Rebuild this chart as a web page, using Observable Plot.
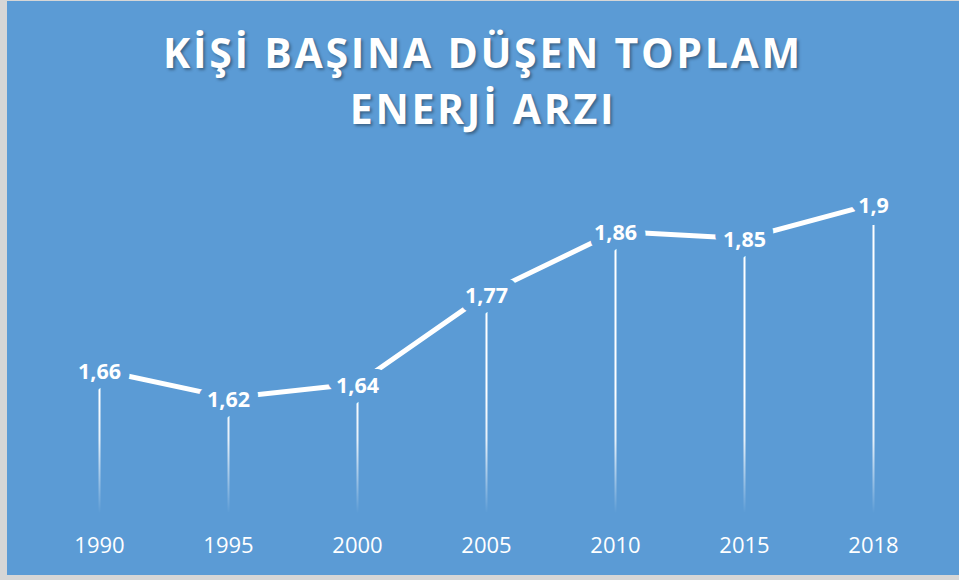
<!DOCTYPE html>
<html>
<head>
<meta charset="utf-8">
<script src="https://cdn.jsdelivr.net/npm/d3@7"></script>
<script src="https://cdn.jsdelivr.net/npm/@observablehq/plot@0.6"></script>
<style>
  html, body { margin: 0; padding: 0; background: #d6d6d6; }
  #box {
    position: absolute; left: 7px; top: 1px; width: 952px; height: 574px;
    background: #5B9BD5; overflow: hidden;
  }
  #title {
    box-sizing: border-box; height: 150px; padding-top: 23px;
    text-align: center; color: #ffffff;
    font-family: "Open Sans", sans-serif; font-weight: 700;
    font-size: 41px; line-height: 56px; letter-spacing: 2.7px;
    text-shadow: 2px 2px 3px rgba(0,0,0,0.35);
  }
</style>
</head>
<body>
<div id="box">
  <div id="title">KİŞİ BAŞINA DÜŞEN TOPLAM<br>ENERJİ ARZI</div>
  <div id="chart"></div>
</div>
<script>
const years = ["1990", "1995", "2000", "2005", "2010", "2015", "2018"];
const values = [1.66, 1.62, 1.64, 1.77, 1.86, 1.85, 1.9];
const yMin = 1.45;

const data = years.map((y, i) => ({year: y, value: values[i]}));
const fmt = v => String(v).replace(".", ",");
const BLUE = "#5B9BD5";

const W = 952, H = 424;
const chart = Plot.plot({
  width: W,
  height: H,
  marginLeft: 0,
  marginRight: 0,
  marginTop: 0,
  marginBottom: 60.2,
  style: {background: "transparent", fontFamily: "Open Sans, sans-serif", color: "white"},
  x: {type: "point", domain: years, range: [91.3, 867.5], padding: 0},
  y: {domain: [yMin, 1.9], range: [363.8, 52.4], axis: null},
  marks: [
    Plot.ruleX(data, {x: "year", y1: () => yMin, y2: "value", stroke: "url(#dropFade)", strokeWidth: 2}),
    Plot.line(data, {x: "year", y: "value", stroke: "white", strokeWidth: 5}),
    Plot.text(data, {
      x: "year", y: "value", text: d => fmt(d.value),
      fill: "white", stroke: BLUE, strokeWidth: 18, strokeLinejoin: "round",
      fontSize: 21.5, fontWeight: "bold", dy: 2
    }),
    Plot.axisX({tickSize: 0, tickPadding: 21.6, fontSize: 22, fill: "white", label: null})
  ]
});

// gradient for the fading drop lines
const ns = "http://www.w3.org/2000/svg";
const defs = document.createElementNS(ns, "defs");
const grad = document.createElementNS(ns, "linearGradient");
grad.setAttribute("id", "dropFade");
grad.setAttribute("gradientUnits", "userSpaceOnUse");
grad.setAttribute("x1", "0"); grad.setAttribute("x2", "0");
grad.setAttribute("y1", "240"); grad.setAttribute("y2", "362");
[[0, 1], [0.4, 0.85], [1, 0]].forEach(([o, a]) => {
  const s = document.createElementNS(ns, "stop");
  s.setAttribute("offset", o);
  s.setAttribute("stop-color", "white");
  s.setAttribute("stop-opacity", a);
  grad.appendChild(s);
});
defs.appendChild(grad);
chart.insertBefore(defs, chart.firstChild);

document.getElementById("chart").appendChild(chart);
</script>
</body>
</html>
